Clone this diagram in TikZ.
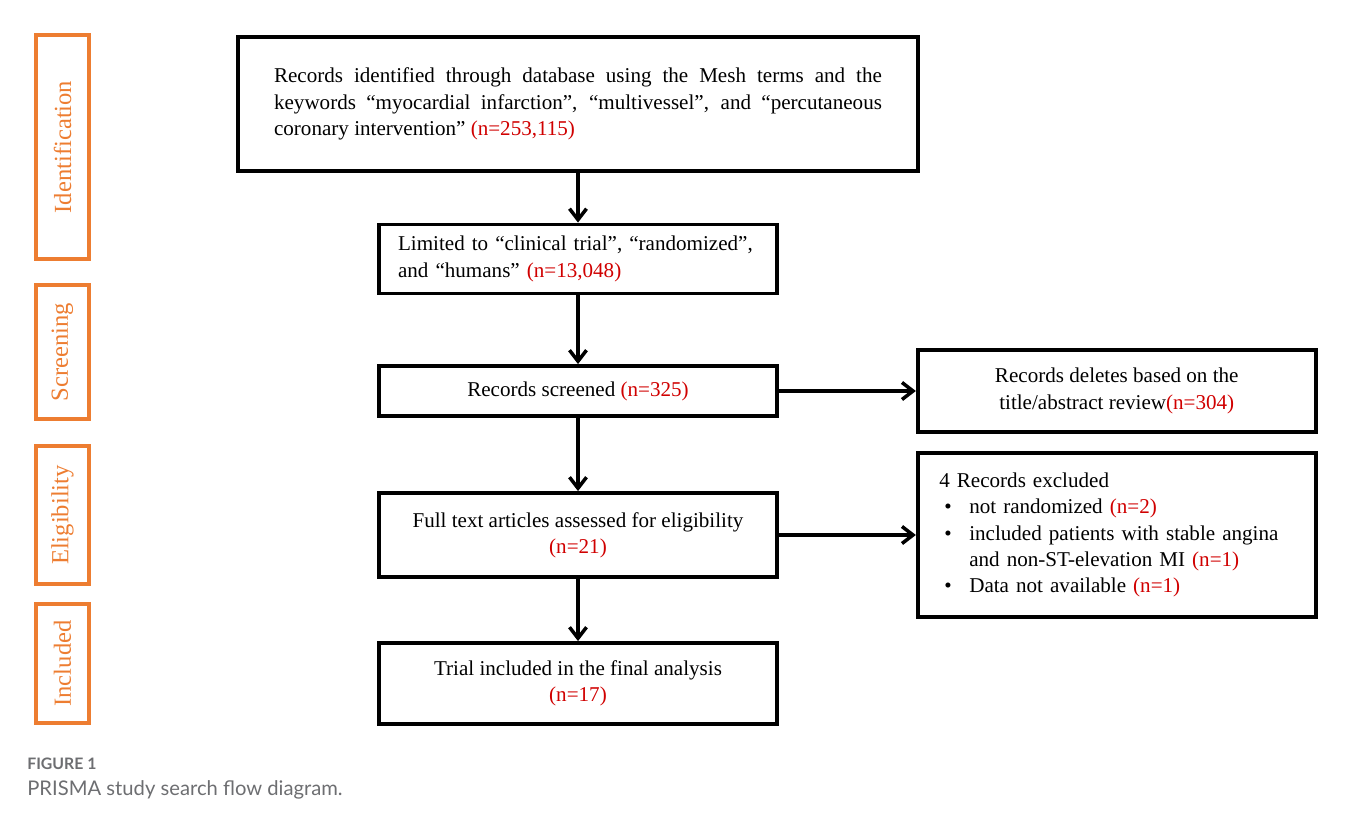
\documentclass[tikz,border=0pt]{standalone}
\usepackage{fontspec}
\setmainfont{Liberation Serif}
\newfontfamily\captionfont{Lato}
\usetikzlibrary{positioning, arrows.meta}

\definecolor{phaseorange}{HTML}{ED7D31}
\definecolor{countred}{HTML}{D00000}
\definecolor{captiongray}{HTML}{6D6E71}
\newcommand{\cnt}[1]{\textcolor{countred}{#1}}
\hyphenpenalty=10000

\tikzset{
  flowbox/.style={draw, line width=2.2pt, inner sep=0pt, minimum width=7.96cm,
                  align=center, font=\fontsize{12}{15}\selectfont},
  phasebox/.style={draw=phaseorange, line width=2.4pt, rotate=90, inner sep=0pt,
                   minimum height=1.06cm, text=phaseorange,
                   font=\fontsize{14}{16}\selectfont},
  flowarrow/.style={line width=2pt,
                    -{Straight Barb[length=2.2mm, width=3.4mm, line width=2pt]}}
}

\begin{document}
\begin{tikzpicture}[x=0.02cm, y=-0.02cm]
	\useasboundingbox (0,0) rectangle (1349,821);

	% phases
	\node[phasebox, minimum width=4.48cm] (ident)  at (62.5,147)   {Identification};
	\node[phasebox, minimum width=2.68cm] (screen) at (62.5,352)   {Screening};
	\node[phasebox, minimum width=2.76cm] (elig)   at (62.5,515)   {Eligibility};
	\node[phasebox, minimum width=2.38cm] (incl)   at (62.5,663.5) {Included};

	% main column
	\node[flowbox, minimum width=13.6cm, minimum height=2.68cm,
	      text width=12.16cm, align=justify] (records) at (578,104)
	  {Records identified through database using the Mesh terms and the keywords “myocardial infarction”, “multivessel”, and “percutaneous coronary intervention” \cnt{(n=253,115)}};
	\node[flowbox, minimum height=1.38cm, text width=7.2cm, align=left] (limited) at (578,259)
	  {Limited to “clinical trial”, “randomized”, and “humans” \cnt{(n=13,048)}};
	\node[flowbox, minimum height=1cm] (screened) at (578,391)
	  {Records screened \cnt{(n=325)}};
	\node[flowbox, minimum height=1.68cm] (fulltext) at (578,535)
	  {Full text articles assessed for eligibility\\\cnt{(n=21)}};
	\node[flowbox, minimum height=1.62cm] (final) at (578,683.5)
	  {Trial included in the final analysis\\\cnt{(n=17)}};

	% exclusions
	\node[flowbox, minimum height=1.64cm, right=2.74cm of screened] (deleted)
	  {Records deletes based on the\\title/abstract review\cnt{(n=304)}};
	\node[flowbox, minimum height=3.28cm, text width=7.1cm, align=left,
	      right=2.74cm of fulltext] (excluded)
	  {\begin{tabular}{@{\hspace{0.1cm}}p{0.5cm}@{}l@{}}
	    \multicolumn{2}{@{}l@{}}{4 Records excluded}\\
	    \textbullet & not randomized \cnt{(n=2)}\\
	    \textbullet & included patients with stable angina\\
	                & and non-ST-elevation MI \cnt{(n=1)}\\
	    \textbullet & Data not available \cnt{(n=1)}
	   \end{tabular}};

	\draw[flowarrow] (records) -- (limited);
	\draw[flowarrow] (limited) -- (screened);
	\draw[flowarrow] (screened) -- (fulltext);
	\draw[flowarrow] (fulltext) -- (final);
	\draw[flowarrow] (screened) -- (deleted);
	\draw[flowarrow] (fulltext) -- (excluded);

	% caption
	\node[anchor=base west, inner sep=0pt, text=captiongray,
	      font=\captionfont\bfseries\fontsize{9}{11}\selectfont] (figlabel) at (27,769) {FIGURE 1};
	\node[anchor=base west, inner sep=0pt, text=captiongray,
	      font=\captionfont\fontsize{11.5}{14}\selectfont] (figtitle) at (27,795) {PRISMA study search flow diagram.};
\end{tikzpicture}
\end{document}
